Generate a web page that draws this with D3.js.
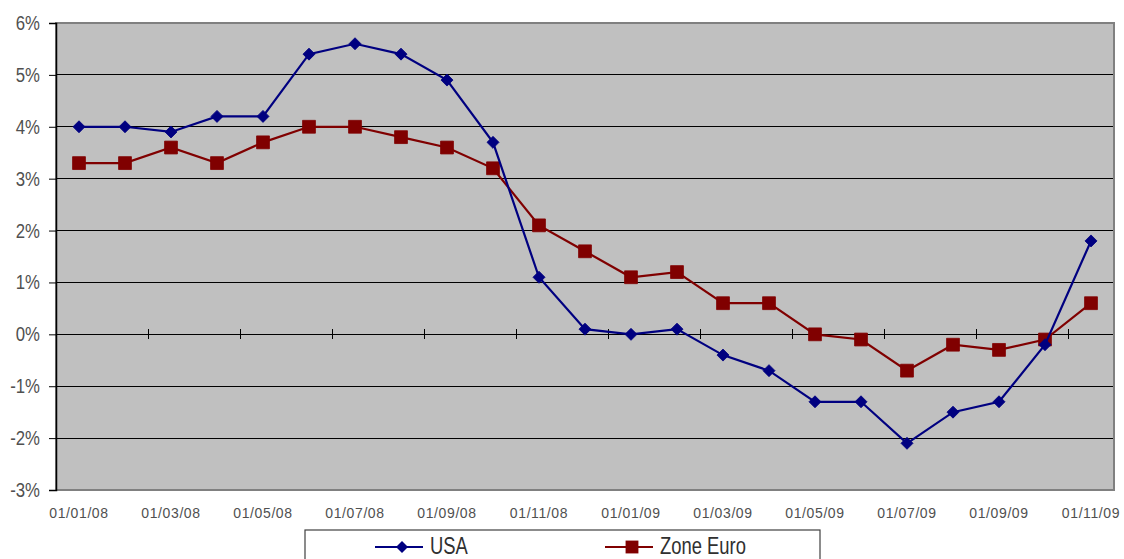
<!DOCTYPE html>
<html>
<head>
<meta charset="utf-8">
<script src="https://cdn.jsdelivr.net/npm/d3@7"></script>
<style>
  html, body { margin: 0; padding: 0; background: #fff; }
  svg { display: block; }
  svg text { font-family: "Liberation Sans", Arial, sans-serif; }
</style>
</head>
<body>
<svg id="chart" width="1124" height="559"></svg>
<script>
// Monthly inflation, Jan 2008 – Nov 2009
const months = ["01/01/08","01/02/08","01/03/08","01/04/08","01/05/08","01/06/08","01/07/08","01/08/08",
  "01/09/08","01/10/08","01/11/08","01/12/08","01/01/09","01/02/09","01/03/09","01/04/09","01/05/09",
  "01/06/09","01/07/09","01/08/09","01/09/09","01/10/09","01/11/09"];
const usa = [4.0, 4.0, 3.9, 4.2, 4.2, 5.4, 5.6, 5.4, 4.9, 3.7, 1.1, 0.1, 0.0, 0.1, -0.4, -0.7, -1.3, -1.3, -2.1, -1.5, -1.3, -0.2, 1.8];
const zoneEuro = [3.3, 3.3, 3.6, 3.3, 3.7, 4.0, 4.0, 3.8, 3.6, 3.2, 2.1, 1.6, 1.1, 1.2, 0.6, 0.6, 0.0, -0.1, -0.7, -0.2, -0.3, -0.1, 0.6];
const yTicks = [-3, -2, -1, 0, 1, 2, 3, 4, 5, 6];

const svg = d3.select("#chart");
const plot = { left: 56, top: 23, right: 1114, bottom: 490 };
const textColor = "#505050";

const x = d3.scaleBand().domain(months).range([plot.left, plot.right]).paddingInner(0).paddingOuter(0);
const y = d3.scaleLinear().domain([-3, 6]).range([plot.bottom, plot.top]);
const cx = d => x(d) + x.bandwidth() / 2;

// condensed text: draw at origin, then squeeze horizontally
function narrowText(parent, px, py, str, opts) {
  const g = parent.append("g")
    .attr("transform", `translate(${px},${py}) scale(${opts.sx},1)`);
  return g.append("text")
    .attr("x", 0).attr("y", 0)
    .attr("text-anchor", opts.anchor || "start")
    .attr("font-size", opts.size)
    .attr("fill", opts.color || textColor)
    .attr("letter-spacing", opts.spacing || 0)
    .text(str);
}

// plot background
svg.append("rect")
  .attr("x", plot.left).attr("y", plot.top)
  .attr("width", plot.right - plot.left).attr("height", plot.bottom - plot.top)
  .attr("fill", "#c0c0c0");

// horizontal gridlines
svg.append("g").selectAll("line")
  .data(yTicks.filter(t => t > -3 && t < 6))
  .join("line")
  .attr("x1", plot.left).attr("x2", plot.right)
  .attr("y1", d => y(d)).attr("y2", d => y(d))
  .attr("stroke", "#000").attr("stroke-width", 1)
  .attr("shape-rendering", "crispEdges");

// plot border
svg.append("rect")
  .attr("x", plot.left).attr("y", plot.top)
  .attr("width", plot.right - plot.left).attr("height", plot.bottom - plot.top)
  .attr("fill", "none").attr("stroke", "#808080").attr("stroke-width", 2);

// y axis: line and ticks from d3, labels drawn condensed
const yAxis = d3.axisLeft(y).tickValues(yTicks).tickSize(7).tickFormat(() => "");
const yg = svg.append("g").attr("transform", `translate(${plot.left},0)`).call(yAxis);
yg.select(".domain").attr("stroke", "#000").attr("stroke-width", 1.5);
yg.selectAll(".tick line").attr("stroke", "#000");
const yLabels = svg.append("g");
yTicks.forEach(t => {
  narrowText(yLabels, 40, y(t) + 7, t + "%", { sx: 0.86, size: 19.5, anchor: "end" });
});

// category tick marks on the zero line, every second month boundary
const boundaries = months.map((m, i) => i).filter(i => i > 0 && i % 2 === 0);
svg.append("g").selectAll("line")
  .data(boundaries)
  .join("line")
  .attr("x1", i => x(months[i])).attr("x2", i => x(months[i]))
  .attr("y1", y(0) - 5).attr("y2", y(0) + 5)
  .attr("stroke", "#000").attr("stroke-width", 1)
  .attr("shape-rendering", "crispEdges");

// x labels, every second month
svg.append("g").selectAll("text")
  .data(months.filter((m, i) => i % 2 === 0))
  .join("text")
  .attr("x", d => cx(d)).attr("y", 518)
  .attr("text-anchor", "middle")
  .attr("font-size", 14)
  .attr("letter-spacing", 0.6)
  .attr("fill", textColor)
  .text(d => d);

// series
const diamond = d3.symbol().type(d3.symbolSquare).size(72);
const square = d3.symbol().type(d3.symbolSquare).size(165);
const line = d3.line().x((d, i) => cx(months[i])).y(d => y(d));
const series = [
  { name: "USA", values: usa, color: "#000080", marker: diamond, rot: 45 },
  { name: "Zone Euro", values: zoneEuro, color: "#800000", marker: square, rot: 0 }
];

// Zone Euro first so USA draws on top
[series[1], series[0]].forEach(s => {
  svg.append("path")
    .datum(s.values)
    .attr("d", line)
    .attr("fill", "none")
    .attr("stroke", s.color)
    .attr("stroke-width", 2.2);
  svg.append("g").selectAll("path")
    .data(s.values)
    .join("path")
    .attr("transform", (d, i) => `translate(${cx(months[i])},${y(d)}) rotate(${s.rot})`)
    .attr("d", s.marker)
    .attr("fill", s.color)
    .attr("stroke", s.color)
    .attr("stroke-width", 0.8);
});

// legend
const legend = svg.append("g");
legend.append("rect")
  .attr("x", 305).attr("y", 530).attr("width", 515).attr("height", 40)
  .attr("fill", "#fff").attr("stroke", "#404040").attr("stroke-width", 1.2);
const legendItems = [
  { s: series[0], x0: 375, x1: 423, tx: 430 },
  { s: series[1], x0: 605, x1: 653, tx: 660 }
];
legendItems.forEach(it => {
  const ly = 547;
  legend.append("line")
    .attr("x1", it.x0).attr("x2", it.x1).attr("y1", ly).attr("y2", ly)
    .attr("stroke", it.s.color).attr("stroke-width", 2.2);
  legend.append("path")
    .attr("transform", `translate(${(it.x0 + it.x1) / 2 + 3},${ly}) rotate(${it.s.rot})`)
    .attr("d", it.s.marker)
    .attr("fill", it.s.color);
  narrowText(legend, it.tx, 554, it.s.name, { sx: 0.8, size: 23, color: "#303030" });
});
</script>
</body>
</html>
